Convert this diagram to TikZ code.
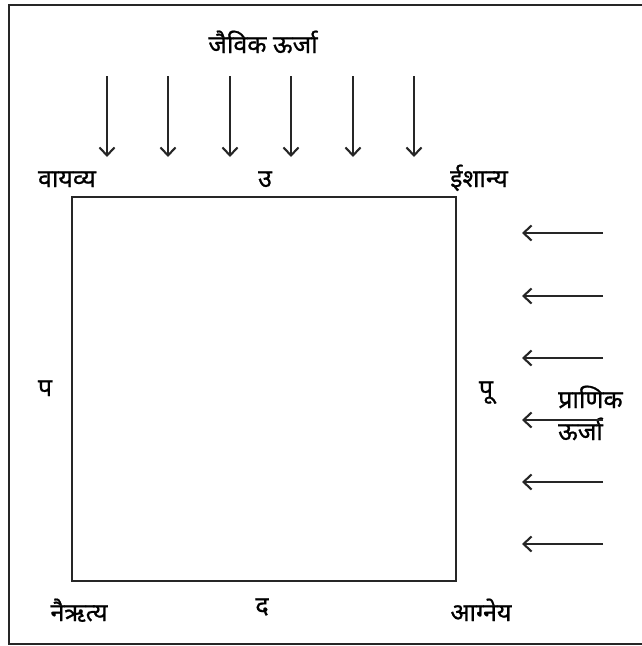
\documentclass[tikz,border=0pt]{standalone}
\usepackage{fontspec}
\newfontfamily\devfont[Script=Devanagari, FakeBold=0.8]{Noto Sans}
\usetikzlibrary{positioning, arrows.meta}

\begin{document}
\begin{tikzpicture}[
        x=1pt, y=-1pt,
        lbl/.style={font=\devfont\fontsize{25}{28}\selectfont, inner sep=0pt, anchor=base},
        arr/.style={-{Straight Barb[length=8pt, width=15pt]}, line width=2.1pt, black!85},
        frame/.style={draw=black!85, line width=2pt, outer sep=0pt, inner sep=0pt}
    ]
        \useasboundingbox (0,0) rectangle (641,646);
        % outer frame, open on the right
        \draw[frame] (660,5) -- (9,5) -- (9,644) -- (660,644);
        \node[frame, minimum size=384pt] (plot) at (264,389) {};

        % labels
        \node[lbl] (title) at (263,53) {जैविक ऊर्जा};
        \node[lbl] (nw) at (67,187) {वायव्य};
        \node[lbl] (n) at (265,187) {उ};
        \node[lbl] (ne) at (479,187) {ईशान्य};
        \node[lbl] (w) at (45,396) {प};
        \node[lbl] (e) at (486,397) {पू};
        \node[lbl, anchor=base west] (pr) at (558,408) {प्राणिक};
        \node[lbl, anchor=base west] (ur) at (558,440) {ऊर्जा};
        \node[lbl] (sw) at (79,621) {नैऋत्य};
        \node[lbl] (s) at (262,614) {द};
        \node[lbl] (se) at (481,621) {आग्नेय};

        % top arrows
        \coordinate (t1) at (107,76); \coordinate (h1) at (107,157);
        \coordinate (t2) at (168,76); \coordinate (h2) at (168,157);
        \coordinate (t3) at (230,76); \coordinate (h3) at (230,157);
        \coordinate (t4) at (291,76); \coordinate (h4) at (291,157);
        \coordinate (t5) at (353,76); \coordinate (h5) at (353,157);
        \coordinate (t6) at (414,76); \coordinate (h6) at (414,157);
        \draw[arr] (t1) -- (h1);
        \draw[arr] (t2) -- (h2);
        \draw[arr] (t3) -- (h3);
        \draw[arr] (t4) -- (h4);
        \draw[arr] (t5) -- (h5);
        \draw[arr] (t6) -- (h6);

        % right arrows
        \coordinate (r1) at (603,233); \coordinate (l1) at (522,233);
        \coordinate (r2) at (603,296); \coordinate (l2) at (522,296);
        \coordinate (r3) at (603,358); \coordinate (l3) at (522,358);
        \coordinate (r4) at (603,420); \coordinate (l4) at (522,420);
        \coordinate (r5) at (603,482); \coordinate (l5) at (522,482);
        \coordinate (r6) at (603,544); \coordinate (l6) at (522,544);
        \draw[arr] (r1) -- (l1);
        \draw[arr] (r2) -- (l2);
        \draw[arr] (r3) -- (l3);
        \draw[arr] (r4) -- (l4);
        \draw[arr] (r5) -- (l5);
        \draw[arr] (r6) -- (l6);
    \end{tikzpicture}
\end{document}
